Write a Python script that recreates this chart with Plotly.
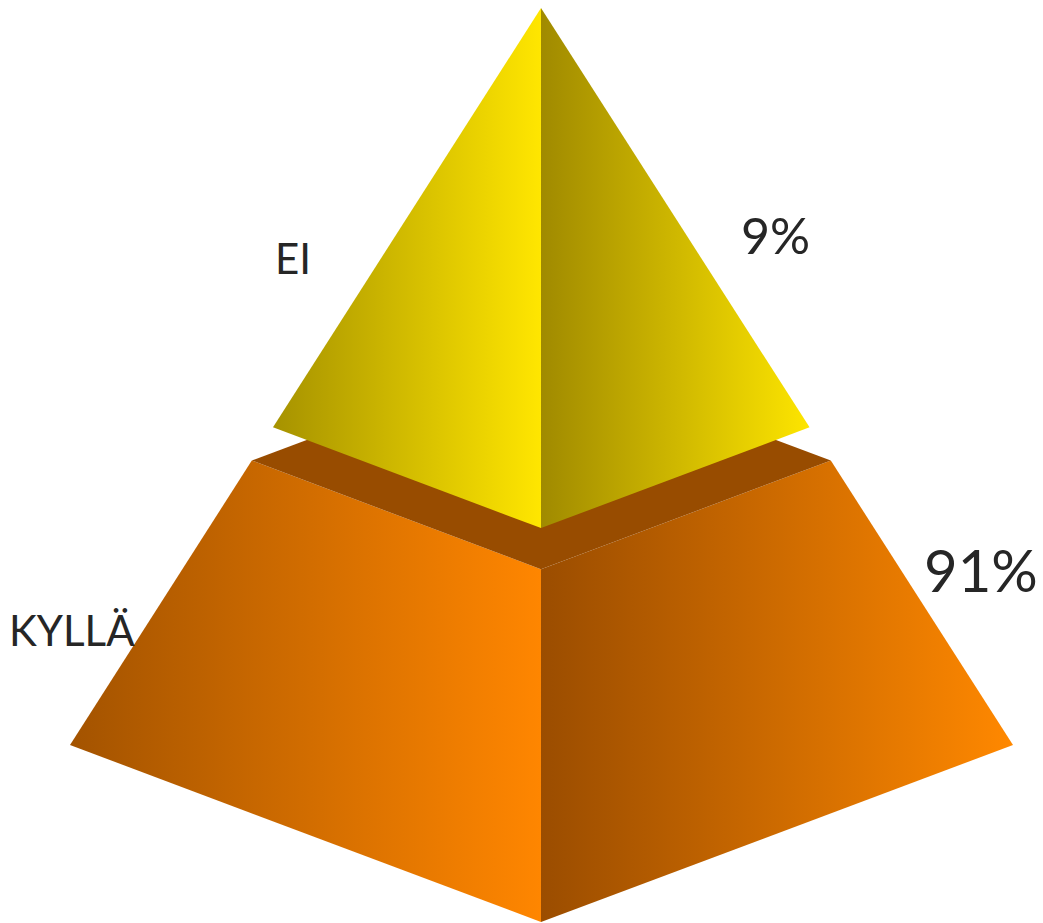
import plotly.graph_objects as go

# ---- data ----
categories = ["KYLLÄ", "EI"]
values = [91, 9]
value_labels = [f"{v}%" for v in values]

# ---- layout / geometry (pixel space) ----
W, H = 1043, 923
apex = (541, 8)
base_left = (70, 745)
base_front = (541, 922)
base_right = (1013, 745)
base_back = (base_left[0] + base_right[0] - base_front[0],
             base_left[1] + base_right[1] - base_front[1])
T_TOP_END = 0.569     # bottom of top segment along apex->base
T_BOT_START = 0.614   # top of bottom segment (gap between)


def at(corner, t):
    return (apex[0] + t * (corner[0] - apex[0]), apex[1] + t * (corner[1] - apex[1]))


fig = go.Figure()


def face(pts, c0, c1, gradient=True):
    xs = [p[0] for p in pts] + [pts[0][0]]
    ys = [p[1] for p in pts] + [pts[0][1]]
    kw = dict(x=xs, y=ys, mode="lines", fill="toself", line=dict(width=0),
              hoverinfo="skip", showlegend=False)
    if gradient:
        kw["fillgradient"] = dict(type="horizontal", colorscale=[[0, c0], [1, c1]])
    else:
        kw["fillcolor"] = c0
    fig.add_trace(go.Scatter(**kw))


# bottom segment (KYLLÄ)
L2, F2, R2, B2 = (at(base_left, T_BOT_START), at(base_front, T_BOT_START),
                  at(base_right, T_BOT_START), at(base_back, T_BOT_START))
face([L2, F2, base_front, base_left], "#a35300", "#ff8600")
face([F2, R2, base_right, base_front], "#9b4d00", "#ff8800")
face([L2, F2, R2, B2], "#984c00", "#984c00", gradient=False)

# top segment (EI)
L1, F1, R1 = at(base_left, T_TOP_END), at(base_front, T_TOP_END), at(base_right, T_TOP_END)
face([apex, F1, L1], "#a69200", "#ffe600")
face([apex, R1, F1], "#a08a00", "#fde500")

# labels
txt = "#262626"
font = "Lato"
fig.add_annotation(x=293, y=258, text=categories[1], showarrow=False,
                   font=dict(family=font, size=42, color=txt), xref="x", yref="y")
fig.add_annotation(x=775, y=235, text=value_labels[1], showarrow=False,
                   font=dict(family=font, size=50, color=txt), xref="x", yref="y")
fig.add_annotation(x=72, y=630, text=categories[0], showarrow=False,
                   font=dict(family=font, size=42, color=txt), xref="x", yref="y")
fig.add_annotation(x=981, y=569, text=value_labels[0], showarrow=False,
                   font=dict(family=font, size=58, color=txt), xref="x", yref="y")

fig.update_layout(
    width=W, height=H,
    margin=dict(l=0, r=0, t=0, b=0),
    paper_bgcolor="white", plot_bgcolor="white",
    xaxis=dict(range=[0, W], visible=False, fixedrange=True),
    yaxis=dict(range=[H, 0], visible=False, fixedrange=True),
    showlegend=False,
)

fig.write_html("out.html")
